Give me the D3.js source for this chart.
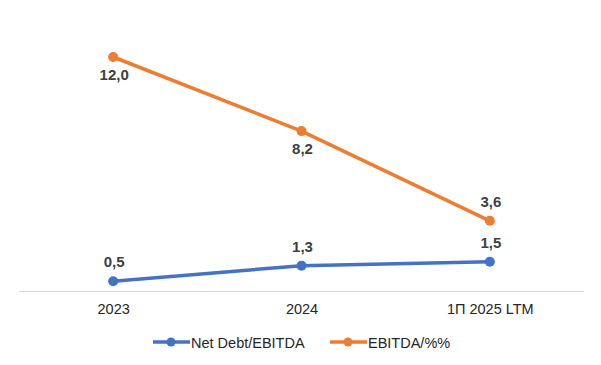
<!DOCTYPE html>
<html><head><meta charset="utf-8">
<script src="https://cdn.jsdelivr.net/npm/d3@7"></script>
<style>body{margin:0;background:#fff}svg{display:block;font-family:Arial,"Liberation Sans",sans-serif}</style>
</head><body><svg id="c" width="601" height="365"></svg>
<script>
const categories = ["2023", "2024", "1П 2025 LTM"];
const netDebt = [0.5, 1.3, 1.5];
const ebitdaPct = [12.0, 8.2, 3.6];
const seriesNames = ["Net Debt/EBITDA", "EBITDA/%%"];
const colors = ["#4472C4", "#ED7D31"];

const svg = d3.select("#c");
const x = d3.scalePoint().domain(categories).range([19, 584]).padding(0.5);
const y = d3.scaleLinear().domain([0, 14]).range([291, 18]);

svg.append("line").attr("x1", 19).attr("x2", 584).attr("y1", 291.5).attr("y2", 291.5)
  .attr("stroke", "#d9d9d9").attr("stroke-width", 1);

const xAxis = d3.axisBottom(x).tickSize(0).tickPadding(0);
const gx = svg.append("g").attr("transform", "translate(0,291)").call(xAxis);
gx.select(".domain").remove();
gx.selectAll("text").attr("dy", null).attr("y", 23).attr("font-size", 14.5).attr("fill", "#262626")
  .attr("font-family", "Arial, 'Liberation Sans', sans-serif");

const series = [
  {name: seriesNames[0], values: netDebt, color: colors[0], pos: ["above", "above", "above"]},
  {name: seriesNames[1], values: ebitdaPct, color: colors[1], pos: ["below", "below", "above"]}
];
const line = d3.line().x((d, i) => x(categories[i])).y(d => y(d));
const fmt = v => v.toFixed(1).replace(".", ",");

series.forEach(s => {
  svg.append("path").attr("d", line(s.values)).attr("fill", "none")
    .attr("stroke", s.color).attr("stroke-width", 3.5).attr("stroke-linejoin", "round");
  svg.selectAll(null).data(s.values).enter().append("circle")
    .attr("cx", (d, i) => x(categories[i])).attr("cy", d => y(d)).attr("r", 5).attr("fill", s.color);
  svg.selectAll(null).data(s.values).enter().append("text")
    .attr("x", (d, i) => x(categories[i]) + 1)
    .attr("y", (d, i) => y(d) + (s.pos[i] === "above" ? -14 : 23))
    .attr("text-anchor", "middle").attr("font-size", 15).attr("font-weight", "bold")
    .attr("fill", "#404040").text(d => fmt(d));
});

// legend
const lg = svg.append("g").attr("transform", "translate(0,342)");
const legendX = [153, 330];
series.forEach((s, i) => {
  const g = lg.append("g").attr("transform", `translate(${legendX[i]},0)`);
  g.append("line").attr("x1", 0).attr("x2", 37).attr("stroke", s.color).attr("stroke-width", 3.5);
  g.append("circle").attr("cx", 18).attr("r", 4.5).attr("fill", s.color);
  g.append("text").attr("x", 38).attr("y", 5.5).attr("font-size", 14.5).attr("fill", "#262626").text(s.name);
});
</script></body></html>
